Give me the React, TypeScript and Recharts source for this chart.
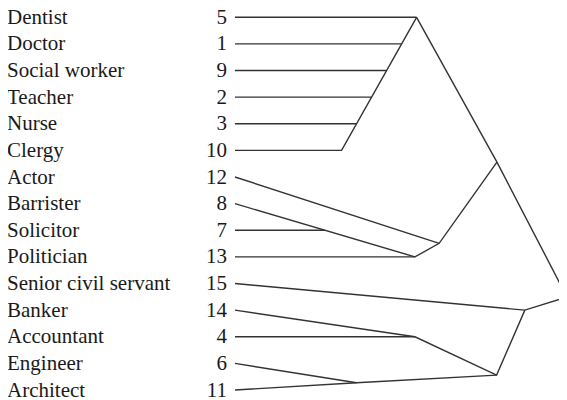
import { LineChart, Line, XAxis, YAxis } from 'recharts';

// leaf rows, top to bottom
const occupations = [
  'Dentist', 'Doctor', 'Social worker', 'Teacher', 'Nurse', 'Clergy', 'Actor',
  'Barrister', 'Solicitor', 'Politician', 'Senior civil servant', 'Banker',
  'Accountant', 'Engineer', 'Architect',
];
const caseIds = [5, 1, 9, 2, 3, 10, 12, 8, 7, 13, 15, 14, 4, 6, 11];
const rows = occupations.map((_, i) => i);

// branches as [distance, row] points (distance 0 = leaf, 100 = root)
const healthBranches = [
  [[0, 0], [54.7, 0]],
  [[0, 1], [50.2, 1]],
  [[0, 2], [45.7, 2]],
  [[0, 3], [41.1, 3]],
  [[0, 4], [36.5, 4]],
  [[0, 5], [32.1, 5], [54.7, 0]],
];
const lawBranches = [
  [[0, 6], [61.5, 8.49]],
  [[0, 7], [54.2, 9]],
  [[0, 8], [27.1, 8]],
  [[0, 9], [54.2, 9], [61.5, 8.49], [78.9, 5.44]],
];
const businessBranches = [
  [[0, 10], [87.3, 11], [100, 10.51]],
  [[0, 11], [54.2, 12]],
  [[0, 12], [54.2, 12], [78.8, 13.44], [87.3, 11]],
  [[0, 13], [36.6, 13.73]],
  [[0, 14], [36.6, 13.73], [78.8, 13.44]],
];
const trunk = [[54.7, 0], [78.9, 5.44], [100, 10.51]];

const branches = [...healthBranches, ...lawBranches, ...businessBranches, trunk]
  .map(b => b.map(([d, r]) => ({ d, r })));

const textStyle = { fontFamily: 'Liberation Serif', fontSize: 21 };

function RowTick(props: any) {
  const { y, payload } = props;
  const i = payload.value;
  return (
    <g>
      <text x={7} y={y + 6.5} style={textStyle} fill="#1a1a1a">
        {occupations[i]}
      </text>
      <text x={227} y={y + 6.5} textAnchor="end" style={textStyle} fill="#1a1a1a">
        {caseIds[i]}
      </text>
    </g>
  );
}

export default function App() {
  return (
    <div style={{ margin: '-8px 0 0 -8px', width: 567, height: 400, overflow: 'hidden' }}>
      <LineChart width={567} height={400} margin={{ top: 17.3, right: 0, bottom: 10, left: 0 }}>
        <XAxis type="number" dataKey="d" domain={[0, 100]} hide />
        <YAxis
          type="number"
          dataKey="r"
          domain={[0, 14]}
          reversed
          ticks={rows}
          interval={0}
          width={235}
          axisLine={false}
          tickLine={false}
          tick={<RowTick />}
        />
        {branches.map((b, i) => (
          <Line
            key={i}
            data={b}
            dataKey="r"
            type="linear"
            stroke="#333"
            strokeWidth={1.4}
            dot={false}
            activeDot={false}
            isAnimationActive={false}
          />
        ))}
      </LineChart>
    </div>
  );
}
